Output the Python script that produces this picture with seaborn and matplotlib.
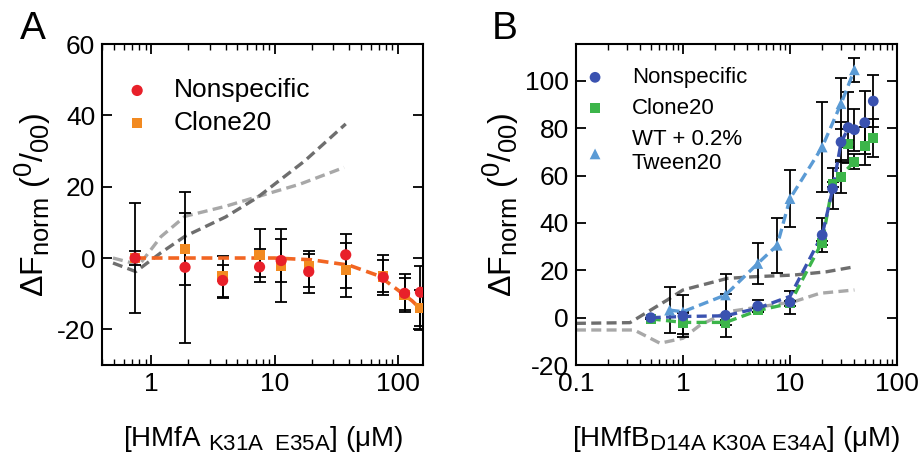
import numpy as np
import matplotlib
matplotlib.use("Agg")
import matplotlib.pyplot as plt
import matplotlib._mathtext as mathtext_mod
import seaborn as sns
from matplotlib.ticker import LogLocator, NullFormatter, FixedLocator

# ---------- panel A data ----------
a_conc = [0.74, 1.88, 3.79, 7.55, 11.3, 18.9, 37.7, 75.9, 113, 152]
a_nonspec = [0.0, -2.6, -6.3, -2.5, -0.7, -3.8, 0.9, -5.4, -9.9, -9.6]
a_nonspec_hi = [15.3, 18.5, 0.5, 8.0, 8.0, 2.0, 6.6, 0.9, -4.4, -2.3]
a_nonspec_lo = [-15.4, -23.7, -11.3, -6.8, -12.4, -9.7, -10.8, -10.3, -15.0, -20.2]
a_clone = [0.0, 2.5, -5.2, 0.9, -2.3, -2.3, -3.3, -5.2, -10.3, -14.1]
a_clone_hi = [2.0, 12.7, -1.9, 2.5, 5.2, 1.2, 4.2, -0.5, -5.5, -9.0]
a_clone_lo = [-2.0, -7.5, -10.8, -5.2, -6.6, -8.0, -8.5, -9.5, -14.5, -19.2]

a_fit_x = [0.74, 5, 10, 20, 40, 70, 100, 130, 160]
a_fit_y = [0.0, 0.0, 0.0, -0.5, -2.0, -5.0, -9.0, -12.0, -15.0]
a_gl_x = [0.49, 0.80, 1.2, 1.88, 4.0, 7.6, 16, 36.6]
a_gl_y = [0.0, -1.9, 6.0, 11.7, 14.5, 17.4, 20.7, 25.4]
a_gd_x = [0.49, 0.75, 1.2, 1.88, 4.0, 7.2, 17.5, 37.7]
a_gd_y = [-1.4, -3.8, 1.5, 6.1, 11.5, 16.9, 27.2, 37.6]

# ---------- panel B data ----------
b_conc = [0.5, 1.0, 2.5, 5, 10, 20, 25, 30, 35, 40, 50, 60]
b_nonspec = [0.0, 0.7, 1.0, 4.9, 6.5, 34.9, 54.5, 74.2, 80.3, 79.4, 82.4, 91.5]
b_nonspec_err = [0.0, 9.0, 9.0, 2.5, 4.8, 7.0, 8.8, 8.3, 15.0, 8.8, 13.2, 11.0]
b_clone = [-0.7, -2.4, -2.1, 3.2, 6.0, 31.6, 56.4, 59.5, 73.5, 65.8, 72.5, 76.0]
b_clone_err = [0.0, 4.5, 1.0, 1.0, 1.0, 1.0, 1.0, 6.9, 1.5, 3.2, 8.0, 8.0]
b_tween_x = [0.75, 1.0, 2.5, 5, 7.6, 10, 20, 30, 40]
b_tween = [3.2, 2.5, 9.6, 22.9, 30.6, 50.3, 72.1, 90.4, 104.7]
b_tween_err = [9.8, 0.0, 8.9, 8.7, 11.6, 12.0, 19.0, 10.9, 5.0]

b_fit_ns_x = [0.5, 1.0, 2.5, 5, 10, 20, 25, 30, 35]
b_fit_ns_y = [0.0, 0.5, 0.8, 4.0, 9.0, 35.0, 54.0, 74.0, 80.0]
b_fit_cl_x = [0.5, 1.0, 2.5, 5, 10, 20, 25, 30, 40]
b_fit_cl_y = [-0.5, -2.0, -2.0, 3.0, 6.0, 32.0, 56.0, 60.0, 66.0]
b_gd_x = [0.1, 0.32, 0.71, 1.0, 2.6, 4.6, 10.8, 22, 40]
b_gd_y = [-2.4, -2.1, 7.4, 11.7, 16.6, 17.3, 18.0, 19.4, 21.5]
b_gl_x = [0.1, 0.35, 0.61, 1.0, 1.45, 2.6, 5.3, 10.8, 19, 40]
b_gl_y = [-5.2, -5.2, -10.8, -8.7, -3.1, 2.5, 4.6, 6.7, 10.3, 11.7]

RED = "#e8202a"
ORANGE = "#f28a21"
ORANGE_LINE = "#f26522"
DBLUE = "#3a52b0"
GREEN = "#3cb54a"
LBLUE = "#5b9bd5"
DGRAY = "#6e6e6e"
LGRAY = "#a8a8a8"

sns.set_theme(style="ticks")
plt.rcParams["font.family"] = ["Liberation Sans", "DejaVu Sans"]
plt.rcParams["mathtext.fontset"] = "custom"
plt.rcParams["mathtext.rm"] = "Liberation Sans"
plt.rcParams["mathtext.it"] = "Liberation Sans:italic"
plt.rcParams["mathtext.bf"] = "Liberation Sans:bold"
plt.rcParams["axes.unicode_minus"] = False
plt.rcParams["text.color"] = "black"
plt.rcParams["axes.labelcolor"] = "black"
# subscripts in the original are a bit larger than mathtext's default
mathtext_mod.SHRINK_FACTOR = 0.8

fig = plt.figure(figsize=(9.2, 4.54), dpi=100)
axA = fig.add_axes([0.111, 0.196, 0.349, 0.707])
axB = fig.add_axes([0.626, 0.196, 0.349, 0.707])

DASH = (3.0, 1.6)


def dline(ax, x, y, color, lw=2.4):
    sns.lineplot(x=x, y=y, ax=ax, color=color, lw=lw, legend=False,
                 dashes=False, estimator=None, sort=False).lines[-1].set_dashes(DASH)


def ebar(ax, x, y, lo, hi):
    lo = np.asarray(lo)
    hi = np.asarray(hi)
    y = np.asarray(y)
    ax.errorbar(x, y, yerr=[y - lo, hi - y], fmt="none", ecolor="black",
                elinewidth=1.3, capsize=4, capthick=1.3, zorder=2)


def style(ax):
    ax.set_xscale("log")
    for s in ax.spines.values():
        s.set_linewidth(1.5)
        s.set_color("black")
    ax.tick_params(which="both", direction="in", top=True, right=True,
                   colors="black", labelsize=19)
    ax.tick_params(which="major", length=7, width=1.3, pad=5)
    ax.tick_params(which="minor", length=4, width=1.0)
    ax.xaxis.set_minor_locator(LogLocator(base=10, subs=np.arange(2, 10)))
    ax.xaxis.set_minor_formatter(NullFormatter())
    ax.grid(False)


YLAB = r"ΔF$_{\mathrm{norm}}$ ($^{0}$/$_{00}$)"

# ---------- panel A ----------
style(axA)
dline(axA, a_gl_x, a_gl_y, LGRAY)
dline(axA, a_gd_x, a_gd_y, DGRAY)
ebar(axA, a_conc, a_clone, a_clone_lo, a_clone_hi)
ebar(axA, a_conc, a_nonspec, a_nonspec_lo, a_nonspec_hi)
dline(axA, a_fit_x, a_fit_y, ORANGE_LINE, lw=2.6)
sns.scatterplot(x=a_conc, y=a_clone, ax=axA, marker="s", color=ORANGE, s=55,
                edgecolor="none", label="Clone20", zorder=3)
sns.scatterplot(x=a_conc, y=a_nonspec, ax=axA, marker="o", color=RED, s=65,
                edgecolor="none", label="Nonspecific", zorder=4)
axA.set_xlim(0.4, 160)
axA.set_ylim(-30, 60)
axA.yaxis.set_major_locator(FixedLocator([-20, 0, 20, 40, 60]))
axA.set_xticks([1, 10, 100])
axA.set_xticklabels(["1", "10", "100"])
h, l = axA.get_legend_handles_labels()
axA.legend([h[1], h[0]], [l[1], l[0]], loc="upper left", frameon=False,
           fontsize=19, handlelength=1.0, handletextpad=0.9, labelspacing=0.33,
           bbox_to_anchor=(0.068, 0.893), borderaxespad=0, borderpad=0)
axA.set_ylabel(YLAB, fontsize=23, labelpad=2)
axA.set_xlabel(r"${\mathrm{[HMfA\ }}_{\mathrm{K31A\ \ E35A}}\mathrm{]}$ (μM)",
               fontsize=20, labelpad=20)

# ---------- panel B ----------
style(axB)
dline(axB, b_gd_x, b_gd_y, DGRAY)
dline(axB, b_gl_x, b_gl_y, LGRAY)
b_ns = np.asarray(b_nonspec)
b_cl = np.asarray(b_clone)
b_tw = np.asarray(b_tween)
ebar(axB, b_conc, b_cl, b_cl - np.asarray(b_clone_err), b_cl + np.asarray(b_clone_err))
ebar(axB, b_conc, b_ns, b_ns - np.asarray(b_nonspec_err), b_ns + np.asarray(b_nonspec_err))
ebar(axB, b_tween_x, b_tw, b_tw - np.asarray(b_tween_err), b_tw + np.asarray(b_tween_err))
dline(axB, b_fit_cl_x, b_fit_cl_y, GREEN)
dline(axB, b_fit_ns_x, b_fit_ns_y, DBLUE)
dline(axB, b_tween_x, b_tween, LBLUE)
sns.scatterplot(x=b_tween_x, y=b_tween, ax=axB, marker="^", color=LBLUE, s=60,
                edgecolor="none", label="WT + 0.2%\nTween20", zorder=3)
sns.scatterplot(x=b_conc, y=b_clone, ax=axB, marker="s", color=GREEN, s=50,
                edgecolor="none", label="Clone20", zorder=3)
sns.scatterplot(x=b_conc, y=b_nonspec, ax=axB, marker="o", color=DBLUE, s=60,
                edgecolor="none", label="Nonspecific", zorder=4)
axB.set_xlim(0.1, 100)
axB.set_ylim(-20, 115.6)
axB.yaxis.set_major_locator(FixedLocator([-20, 0, 20, 40, 60, 80, 100]))
axB.set_xticks([0.1, 1, 10, 100])
axB.set_xticklabels(["0.1", "1", "10", "100"])
h, l = axB.get_legend_handles_labels()
axB.legend([h[2], h[1], h[0]], [l[2], l[1], l[0]], loc="upper left",
           frameon=False, fontsize=16, handlelength=1.0, handletextpad=1.16,
           labelspacing=0.45, bbox_to_anchor=(0.025, 0.928), borderaxespad=0,
           borderpad=0)
axB.set_ylabel(YLAB, fontsize=23, labelpad=2)
axB.set_xlabel(r"${\mathrm{[HMfB}}_{\mathrm{D14A\ K30A\ E34A}}\mathrm{]}$ (μM)",
               fontsize=20, labelpad=20)

fig.text(0.022, 0.975, "A", fontsize=28, va="top", ha="left")
fig.text(0.535, 0.975, "B", fontsize=28, va="top", ha="left")

fig.savefig("out.png", dpi=100)
